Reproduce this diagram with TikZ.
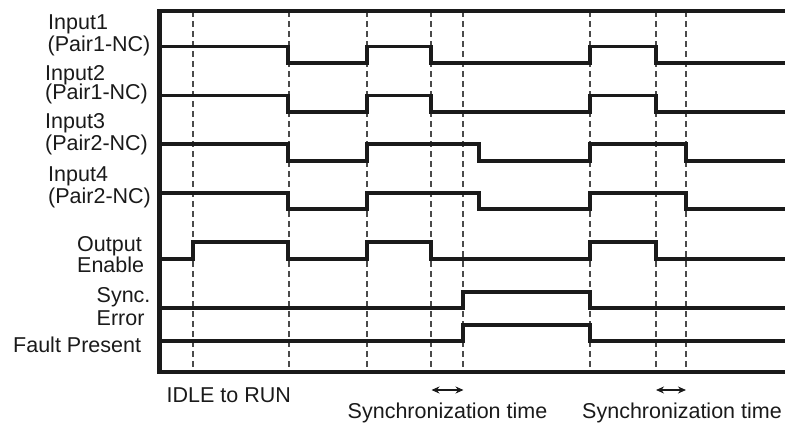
\documentclass[tikz,border=0pt]{standalone}
\usepackage{fontspec}
\setmainfont{Liberation Sans}
\usetikzlibrary{arrows.meta}
\definecolor{ink}{HTML}{1A1A1A}
\definecolor{dashc}{HTML}{4A4A4A}
\begin{document}
\begin{tikzpicture}[x=1pt,y=-1pt,
  frame/.style={draw=ink,line width=4.3pt,line cap=rect,line join=miter},
  sig/.style={draw=ink,line width=3.3pt,line join=miter},
  guide/.style={draw=dashc,line width=1.4pt,dash pattern=on 6pt off 4pt},
  lbl/.style={inner sep=0pt,anchor=base west,text=ink,font=\fontsize{21.5}{24}\selectfont},
  arr/.style={draw=ink,line width=1.4pt,{Stealth[length=8pt,width=7pt]}-{Stealth[length=8pt,width=7pt]}}
]
\useasboundingbox (0,0) rectangle (785,423);
% guides
\foreach \x/\n in {193/a,289/b,367/c,431/d,463/e,590/f,656/g,686/h}{
  \coordinate (gt\n) at (\x,11);
  \coordinate (gb\n) at (\x,372);
  \draw[guide] (gt\n) -- (gb\n);
}
% frame
\coordinate (fr1) at (785,11);
\coordinate (fr2) at (159.5,11);
\coordinate (fr3) at (159.5,372);
\coordinate (fr4) at (785,372);
\draw[frame] (fr1) -- (fr2) -- (fr3) -- (fr4);
% Input1 and Input2
\foreach \h/\l in {46.5/63,95.5/112}{
  \draw[sig] (159,\h) -- (288,\h) -- (288,\l) -- (367,\l) -- (367,\h) -- (431,\h) -- (431,\l)
    -- (590,\l) -- (590,\h) -- (656,\h) -- (656,\l) -- (785,\l);
}
% Input3 and Input4
\foreach \h/\l in {144/161,193/209}{
  \draw[sig] (159,\h) -- (288,\h) -- (288,\l) -- (367,\l) -- (367,\h) -- (479,\h) -- (479,\l)
    -- (590,\l) -- (590,\h) -- (686,\h) -- (686,\l) -- (785,\l);
}
% Output Enable
\draw[sig] (159,259) -- (193,259) -- (193,242) -- (288,242) -- (288,259) -- (367,259) -- (367,242)
  -- (431,242) -- (431,259) -- (590,259) -- (590,242) -- (656,242) -- (656,259) -- (785,259);
% Sync Error and Fault Present
\foreach \h/\l in {292/308,325/341}{
  \draw[sig] (159,\l) -- (463,\l) -- (463,\h) -- (590,\h) -- (590,\l) -- (785,\l);
}
% labels
\node[lbl] (l1a) at (48,29.5) {Input1};
\node[lbl] (l1b) at (47.5,51.7) {(Pair1-NC)};
\node[lbl] (l2a) at (45,80) {Input2};
\node[lbl] (l2b) at (45,99.5) {(Pair1-NC)};
\node[lbl] (l3a) at (45,128.3) {Input3};
\node[lbl] (l3b) at (45,150) {(Pair2-NC)};
\node[lbl] (l4a) at (48,181.7) {Input4};
\node[lbl] (l4b) at (48,203.3) {(Pair2-NC)};
\node[lbl] (l5a) at (77,251.7) {Output};
\node[lbl] (l5b) at (77,272.7) {Enable};
\node[lbl] (l6a) at (96.5,302.7) {Sync.};
\node[lbl] (l6b) at (96.5,325) {Error};
\node[lbl] (l7) at (13,352.7) {Fault Present};
\node[lbl] (idle) at (166.5,402.7) {IDLE to RUN};
\node[lbl,anchor=base] (st1) at (447.5,418) {Synchronization time};
\node[lbl,anchor=base] (st2) at (682,418) {Synchronization time};
% arrows
\coordinate (a1l) at (431.5,390);
\coordinate (a1r) at (463.5,390);
\coordinate (a2l) at (656,390);
\coordinate (a2r) at (686,390);
\draw[arr] (a1l) -- (a1r);
\draw[arr] (a2l) -- (a2r);
\end{tikzpicture}
\end{document}
